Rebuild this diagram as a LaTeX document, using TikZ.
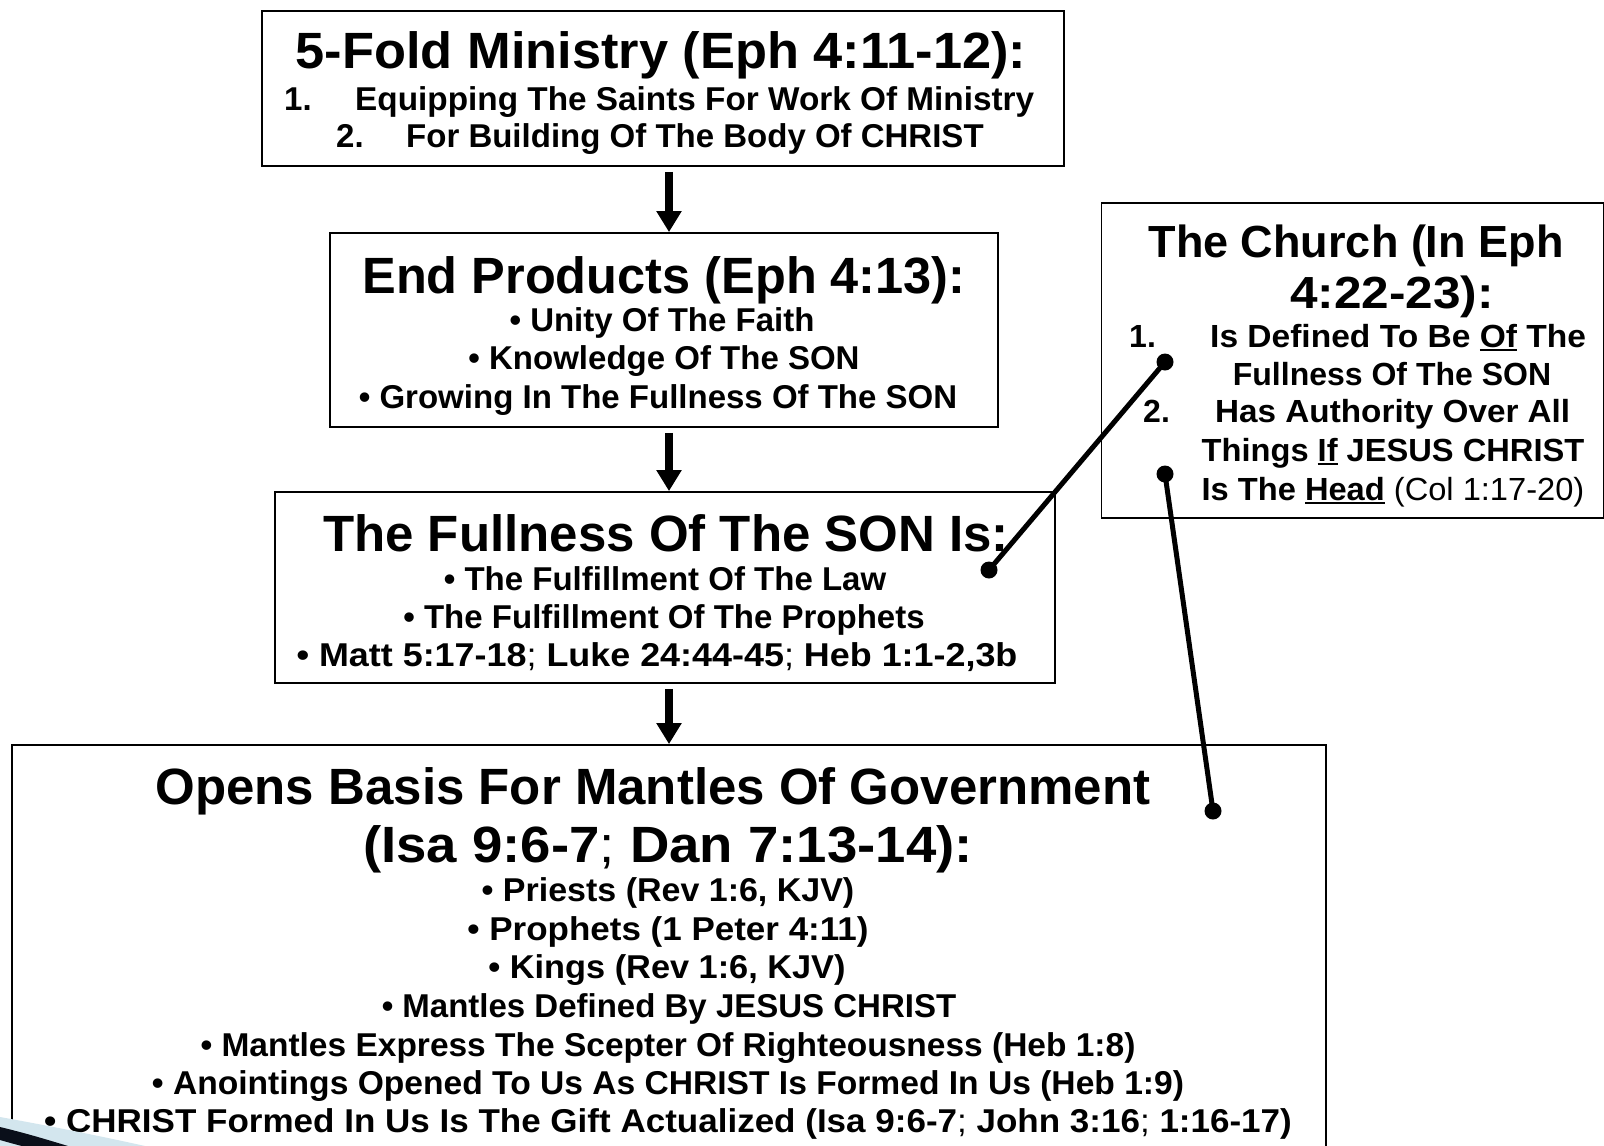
\documentclass[tikz,border=0pt]{standalone}
\usepackage{fontspec}
\usepackage{graphicx}
\setmainfont{Liberation Sans}
\usetikzlibrary{arrows.meta}
\newcommand{\ulx}[1]{\setbox0\hbox{#1}\rlap{\rule[-4pt]{\wd0}{2.5pt}}\box0\relax}
\newcommand{\semi}{\textmd{;}}
\newcommand{\hs}[2]{\scalebox{#1}[1]{#2}}
\definecolor{swlight}{HTML}{D3E6EE}
\definecolor{swdark}{HTML}{0A0F1A}
\begin{document}
\begin{tikzpicture}[x=1pt,y=-1pt,
  box/.style={draw=black,line width=1.8pt,rectangle,inner sep=0pt},
  ttl/.style={font=\fontsize{51}{60}\selectfont\bfseries,inner sep=0pt,anchor=base},
  ctl/.style={font=\fontsize{45}{54}\selectfont\bfseries,inner sep=0pt,anchor=base},
  itm/.style={font=\fontsize{33}{40}\selectfont\bfseries,inner sep=0pt,anchor=base},
  citm/.style={font=\fontsize{32}{38}\selectfont\bfseries,inner sep=0pt,anchor=base},
  arr/.style={line width=8pt,-{Triangle[width=24pt,length=21pt]}},
  conn/.style={line width=5pt},
  dot/.style={fill=black}
]
\useasboundingbox[fill=white] (0,0) rectangle (1604,1146);
\coordinate (ax) at (669,0);

% boxes
\node[box,minimum width=802pt,minimum height=155pt] (b1) at (663,88.5) {};
\node[box,minimum width=668pt,minimum height=194pt] (b2) at (664,330) {};
\node[box,minimum width=780pt,minimum height=191pt] (b3) at (665,587.5) {};
\node[box,minimum width=1314pt,minimum height=425pt] (b4) at (669,957.5) {};
\node[box,minimum width=502pt,minimum height=315pt] (ch) at (1352.5,360.5) {};

% arrows
\draw[arr] ([yshift=-5pt]b1.south -| ax) -- (b2.north -| ax);
\draw[arr] ([yshift=-5pt]b2.south -| ax) -- (b3.north -| ax);
\draw[arr] ([yshift=-5pt]b3.south -| ax) -- (b4.north -| ax);

% box 1
\node[ttl] (t1) at (661,68) {\hs{1.027}{5-Fold Ministry (Eph 4:11-12):}};
\node[itm,anchor=base west] (t1n1) at (284,110) {1.};
\node[itm,anchor=base west] (t1i1) at (355,110) {\hs{1.01}{Equipping The Saints For Work Of Ministry}};
\node[itm,anchor=base west] (t1n2) at (336,147) {2.};
\node[itm,anchor=base west] (t1i2) at (406,147) {For Building Of The Body Of CHRIST};

% box 2
\node[ttl] (t2) at (664,293) {\hs{0.99}{End Products (Eph 4:13):}};
\node[itm] (t2a) at (662,331) {• Unity Of The Faith};
\node[itm] (t2b) at (664,369) {• Knowledge Of The SON};
\node[itm] (t2c) at (658,408) {• Growing In The Fullness Of The SON};

% box 3
\node[ttl] (t3) at (666,551) {The Fullness Of The SON Is:};
\node[itm] (t3a) at (665,590) {• The Fulfillment Of The Law};
\node[itm] (t3b) at (664,628) {• The Fulfillment Of The Prophets};
\node[itm] (t3c) at (657,666) {\hs{1.088}{• Matt 5:17-18\semi{} Luke 24:44-45\semi{} Heb 1:1-2,3b}};

% box 4
\node[ttl] (t4) at (653,804) {Opens Basis For Mantles Of Government};
\node[ttl] (t4b) at (668,862) {\hs{1.07}{(Isa 9:6-7\semi{} Dan 7:13-14):}};
\node[itm] (t4c) at (668,901) {\hs{1.03}{• Priests (Rev 1:6, KJV)}};
\node[itm] (t4d) at (668,940) {\hs{1.06}{• Prophets (1 Peter 4:11)}};
\node[itm] (t4e) at (667,978) {\hs{1.04}{• Kings (Rev 1:6, KJV)}};
\node[itm] (t4f) at (669,1017) {• Mantles Defined By JESUS CHRIST};
\node[itm] (t4g) at (668,1056) {\hs{1.015}{• Mantles Express The Scepter Of Righteousness (Heb 1:8)}};
\node[itm] (t4h) at (668,1094) {\hs{1.018}{• Anointings Opened To Us As CHRIST Is Formed In Us (Heb 1:9)}};
\node[itm] (t4i) at (668,1132) {\hs{1.061}{• CHRIST Formed In Us Is The Gift Actualized (Isa 9:6-7\semi{} John 3:16\semi{} 1:16-17)}};

% church box
\node[ctl] (c1) at (1356,257) {The Church (In Eph};
\node[ctl] (c2) at (1392,308) {\hs{1.1}{4:22-23):}};
\node[citm,anchor=base west] (c3n) at (1129,347) {1.};
\node[citm,anchor=base west] (c3) at (1210,347) {\hs{1.048}{Is Defined To Be \ulx{Of} The}};
\node[citm] (c4) at (1392,385) {Fullness Of The SON};
\node[citm,anchor=base west] (c5n) at (1143,422) {2.};
\node[citm,anchor=base west] (c5) at (1215,422) {\hs{1.04}{Has Authority Over All}};
\node[citm] (c6) at (1393,461) {\hs{1.02}{Things \ulx{If} JESUS CHRIST}};
\node[citm] (c7) at (1393,500) {\hs{1.02}{Is The \ulx{Head} {\mdseries (Col 1:17-20)}}};

% connectors
\coordinate (d1) at (989,570);
\coordinate (d2) at (1165,362);
\coordinate (d3) at (1165,474);
\coordinate (d4) at (1213,811);
\draw[conn] (d1) -- (d2);
\draw[conn] (d3) -- (d4);
\foreach \d in {d1,d2,d3,d4} \fill[dot] (\d) circle (8.5pt);

% corner swoosh
\fill[swlight] (0,1117) .. controls (50,1126) and (100,1136) .. (145,1146) -- (0,1146) -- cycle;
\fill[swdark] (0,1127) .. controls (25,1133) and (45,1139) .. (68,1146) -- (22,1146) .. controls (14,1144) and (7,1142) .. (0,1140) -- cycle;
\end{tikzpicture}
\end{document}
